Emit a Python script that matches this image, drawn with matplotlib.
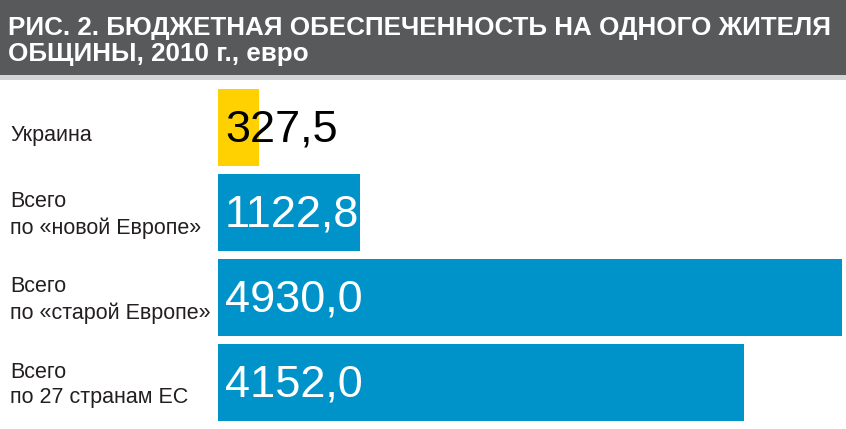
import matplotlib.pyplot as plt
from matplotlib import font_manager
from matplotlib.patches import Rectangle
from matplotlib.transforms import blended_transform_factory

# ================= DATA =================
categories = ["Украина", "Всего\nпо «новой Европе»",
              "Всего\nпо «старой Европе»", "Всего\nпо 27 странам ЕС"]
values = [327.5, 1122.8, 4930.0, 4152.0]
value_labels = ["327,5", "1122,8", "4930,0", "4152,0"]
title = "РИС. 2. БЮДЖЕТНАЯ ОБЕСПЕЧЕННОСТЬ НА ОДНОГО ЖИТЕЛЯ\nОБЩИНЫ, 2010 г., евро"

# ================= STYLE =================
W, H = 846, 429
YELLOW = "#FFD100"
BLUE = "#0093CA"
BAND = "#58595B"
bar_colors = [YELLOW, BLUE, BLUE, BLUE]
text_colors = ["black", "white", "white", "white"]
label_offsets = [0.09, 0.03, 0.03, 0.03]

plt.rcParams["font.family"] = ["Liberation Sans", "DejaVu Sans"]

# narrow bold face for the title, if one of these is installed
names = {f.name for f in font_manager.fontManager.ttflist}
title_family = "Liberation Sans"
for cand in ["Liberation Sans Narrow", "DejaVu Sans Condensed"]:
    if cand in names:
        title_family = cand
        break

fig = plt.figure(figsize=(W / 100, H / 100), dpi=100)
fig.patch.set_facecolor("white")

# title band
fig.patches.append(Rectangle((0, 1 - 75 / H), 1, 75 / H, transform=fig.transFigure,
                             facecolor=BAND, edgecolor="none", zorder=0))
fig.patches.append(Rectangle((0, 1 - 80 / H), 1, 5 / H, transform=fig.transFigure,
                             facecolor="#D4D4D4", edgecolor="none", zorder=0))
t = fig.text(8 / W, 1 - 37 / H, title, color="white", fontsize=22.5, fontweight="bold",
             family=title_family, va="center_baseline", ha="left",
             linespacing=1.12)
# shrink the title until it fits the band width
fig.canvas.draw()
tw = t.get_window_extent().width
if tw > 824:
    t.set_fontsize(22.5 * 824 / tw)

# bars
ax = fig.add_axes([218 / W, 1 - 425 / H, 624 / W, 340 / H])
ypos = list(range(len(values)))
ax.barh(ypos, values, height=0.9, color=bar_colors)
ax.set_xlim(0, 4930)
ax.set_ylim(3.5, -0.5)
ax.axis("off")

for y, lab, col in zip(ypos, value_labels, text_colors):
    ax.text(55, y + 0.03, lab, color=col, fontsize=32.5, va="center", ha="left")

trans = blended_transform_factory(fig.transFigure, ax.transData)
for y, cat, off in zip(ypos, categories, label_offsets):
    ax.text(10 / W, y + off, cat, transform=trans, color="#231F20", fontsize=15.5,
            va="center", ha="left", linespacing=1.3)

fig.savefig("out.png", dpi=100)
